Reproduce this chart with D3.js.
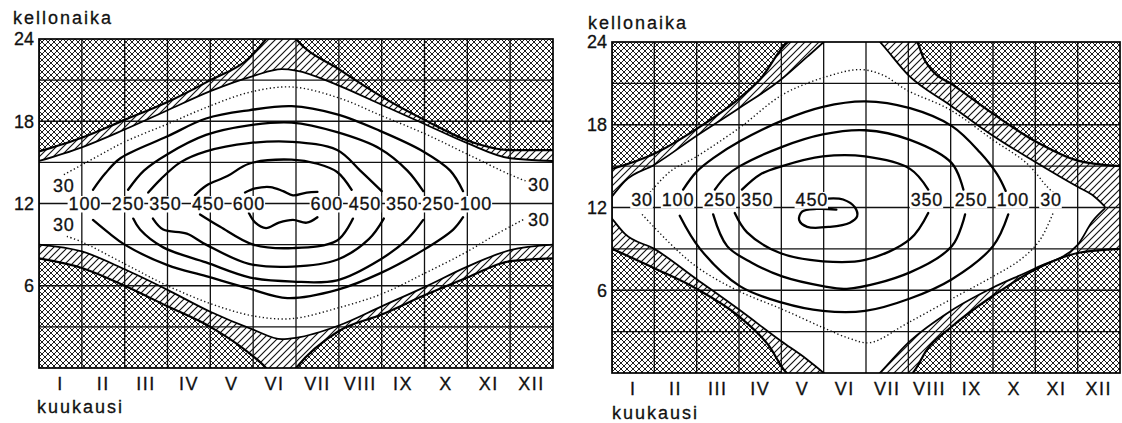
<!DOCTYPE html>
<html><head><meta charset="utf-8">
<script src="https://cdn.jsdelivr.net/npm/d3@7"></script>
<style>
body{margin:0;background:#fff;}
svg text{font-family:"Liberation Sans",Arial,Helvetica,sans-serif;fill:#111;stroke:#111;stroke-width:0.3px;}
</style></head><body>
<svg id="c" width="1122" height="423"></svg>
<script>
// ---------- shared ----------
const months = ["I","II","III","IV","V","VI","VII","VIII","IX","X","XI","XII"];
const hourTicks = [6, 12, 18, 24];
const gridHours = [3, 6, 9, 12, 15, 18, 21];
const yTitle = "kellonaika";
const xTitle = "kuukausi";

// ---------- left chart: day / twilight boundaries (month position, hour) ----------
const L_sunMonth = [0, 1, 2, 3, 4, 5, 5.67, 6, 7, 8, 9, 10, 11, 12];
const L_sunset  = [15.1, 16.1, 17.4, 18.8, 20.2, 21.3, 21.8, 21.7, 20.6, 19.2, 17.8, 16.4, 15.3, 15.1];
const L_sunrise = [9.0, 8.5, 7.2, 5.7, 4.1, 2.8, 2.1, 2.2, 3.1, 4.5, 5.9, 7.4, 8.6, 9.0];
const L_duskMonth = [0, 1, 2, 3, 4, 4.9, 5.3, 5.65, 6.0, 7, 8, 9, 10, 11, 12];
const L_dusk = [15.8, 16.8, 18.1, 19.4, 21.0, 22.6, 24, 25.5, 24, 21.8, 19.8, 18.1, 16.6, 15.9, 15.9];
const L_dawnMonth = [0, 1, 2, 3, 4, 4.9, 5.3, 5.65, 6.0, 7, 8, 9, 10, 11, 12];
const L_dawn = [8.0, 7.3, 6.0, 4.5, 3.0, 1.1, 0, -1.5, 0, 2.7, 3.9, 5.3, 6.6, 7.8, 8.0];

// left chart isopleths [month, hour]
const L_30top = [[0.58,14.1],[1.4,15.5],[2.0,16.5],[3.0,17.8],[3.9,19.0],[4.9,20.1],[5.9,20.5],[7.0,19.7],[8.0,18.4],[9.0,17.1],[10.0,15.6],[11.0,14.1],[11.4,13.6]];
const L_30bottom = [[0.65,9.6],[1.0,9.2],[2.0,7.6],[3.0,6.0],[4.0,4.7],[5.0,3.8],[5.9,3.6],[7.0,4.4],[8.0,5.4],[9.0,6.9],[10.0,8.5],[10.7,9.8],[11.35,10.9]];
const L_100top = [[1.26,13.0],[1.55,14.2],[1.9,15.3],[3.0,16.9],[3.9,18.2],[4.9,18.8],[5.9,19.1],[6.96,18.5],[7.96,17.3],[8.97,15.8],[9.6,14.4],[9.9,12.9]];
const L_100bottom = [[1.26,10.8],[1.65,9.8],[2.0,9.0],[3.0,7.5],[3.9,6.7],[4.9,5.8],[5.8,5.1],[6.96,5.7],[7.96,6.9],[8.97,8.6],[9.67,10.1],[9.9,11.0]];
const L_250top = [[2.08,13.0],[2.45,14.4],[3.0,15.6],[3.9,17.0],[4.9,17.7],[5.9,17.9],[6.96,17.2],[7.96,16.0],[8.6,14.4],[8.97,12.9]];
const L_250bottom = [[2.2,10.9],[2.36,10.1],[2.9,8.8],[3.9,7.7],[4.93,6.6],[5.93,6.3],[6.96,6.4],[7.96,7.9],[8.6,9.4],[8.97,10.8]];
const L_350top = [[2.55,12.8],[2.85,13.8],[3.3,15.0],[3.9,15.8],[4.9,16.4],[5.9,16.5],[6.96,15.9],[7.5,14.4],[8.0,12.9]];
const L_350bottom = [[2.66,10.9],[2.9,10.1],[3.45,9.8],[3.9,9.0],[4.9,7.6],[5.93,7.4],[6.96,7.9],[7.7,9.4],[8.05,10.9]];
const L_450top = [[3.64,12.6],[3.9,13.3],[4.4,14.0],[4.9,14.9],[5.9,15.2],[6.5,14.9],[6.96,14.3],[7.3,13.0]];
const L_450bottom = [[3.76,11.2],[4.23,10.3],[5.0,9.0],[5.93,8.75],[6.96,9.3],[7.33,10.9]];
const L_600top = [[4.81,12.8],[5.05,13.1],[5.4,13.2],[5.7,12.9],[5.93,12.6],[6.25,12.8],[6.5,12.85]];
const L_600bottom = [[4.9,11.3],[5.05,10.6],[5.3,10.2],[5.6,10.6],[5.93,10.8],[6.25,10.6],[6.5,11.0]];

const L_labelText  = ["30","30","100","250","350","450","600","600","450","350","250","100","30","30"];
const L_labelMonth = [0.58,0.58,1.07,2.08,2.95,3.95,4.9,6.72,7.61,8.48,9.32,10.2,11.67,11.67];
const L_labelHour  = [13.3,10.5,12,12,12,12,12,12,12,12,12,12,13.35,10.8];

// ---------- right chart ----------
const R_sunMonth = [-0.2, 0, 0.3, 1, 2, 3, 4, 4.6, 5.0, 5.67, 6.33, 7, 8, 9, 10, 11, 11.35, 11.65];
const R_sunset  = [12.0, 12.8, 13.9, 15.1, 17.2, 19.2, 21.3, 22.9, 24, 26, 24, 21.6, 19.4, 17.2, 15.3, 13.5, 12.9, 12.05];
const R_sunrise = [12.0, 11.2, 10.1, 9.0, 6.8, 4.6, 2.3, 1.0, 0, -2, 0, 2.2, 4.5, 6.2, 7.6, 9.3, 11.0, 11.95];
const R_duskMonth = [0, 1, 2, 3, 3.5, 4.16, 5.67, 7.2, 7.35, 7.6, 8, 9, 10, 11, 12];
const R_dusk = [14.8, 15.9, 17.7, 19.9, 21.3, 24, 25.5, 24, 22.9, 21.8, 21.0, 18.8, 16.8, 15.4, 15.0];
const R_dawnMonth = [0, 1, 2, 3, 3.7, 4.13, 5.67, 7.1, 7.44, 8, 9, 10, 11, 12];
const R_dawn = [9.0, 7.6, 6.1, 4.1, 2.0, 0, -2, 0, 1.7, 3.3, 5.6, 7.5, 8.7, 9.0];

const R_30top = [[0.9,13.1],[1.37,14.6],[2.0,15.7],[3.02,17.8],[4.04,20.2],[5.08,21.5],[5.86,22.0],[6.4,21.6],[6.97,20.5],[7.98,19.1],[9.0,16.9],[9.8,15.2],[10.28,13.5],[10.42,13.1]];
const R_30bottom = [[0.71,11.5],[1.37,9.4],[2.0,7.7],[2.95,6.0],[4.04,4.6],[4.98,3.3],[5.62,2.5],[6.1,2.2],[6.97,3.6],[7.98,5.3],[9.0,7.0],[9.64,8.2],[10.1,9.6],[10.42,11.6]];
const R_100top = [[1.68,13.3],[2.0,14.6],[2.4,15.6],[3.02,16.8],[4.02,18.3],[4.98,19.3],[5.98,19.7],[7.04,19.2],[8.03,17.9],[8.69,16.0],[9.1,14.4],[9.3,13.2]];
const R_100bottom = [[1.6,11.4],[2.08,9.0],[3.02,6.3],[4.02,5.1],[4.98,4.5],[5.98,4.5],[7.04,5.4],[8.03,6.8],[9.0,9.2],[9.36,11.5]];
const R_250top = [[2.43,13.3],[2.7,14.3],[3.02,15.0],[4.02,16.4],[4.98,17.3],[5.98,17.6],[7.04,16.9],[8.03,15.2],[8.3,13.3]];
const R_250bottom = [[2.39,11.5],[2.72,9.2],[3.3,8.0],[4.02,7.0],[4.98,6.3],[5.55,6.1],[7.04,7.3],[8.03,9.2],[8.34,11.5]];
const R_350top = [[3.07,13.3],[3.5,14.4],[4.02,15.0],[4.98,15.7],[5.98,15.7],[7.04,14.8],[7.47,13.3]];
const R_350bottom = [[2.9,11.6],[3.19,10.2],[3.97,8.7],[4.98,8.1],[5.98,8.2],[7.04,9.7],[7.47,11.6]];
const R_450 = [[5.10,12.65],[5.46,12.58],[5.74,12.0],[5.79,11.35],[5.62,10.9],[5.15,10.6],[4.61,10.6],[4.42,11.1],[4.49,11.7],[4.84,11.9],[5.3,11.85]];

const R_labelText  = ["30","100","250","350","450","350","250","100","30"];
const R_labelMonth = [0.71,1.56,2.55,3.43,4.72,7.44,8.48,9.47,10.37];

// ---------- drawing ----------
const svg = d3.select("#c");
const defs = svg.append("defs");
const cross = defs.append("pattern").attr("id","cross").attr("patternUnits","userSpaceOnUse").attr("width",6).attr("height",6);
cross.append("rect").attr("width",6).attr("height",6).attr("fill","#fff");
cross.append("path").attr("d","M-1,-1L7,7M7,-1L-1,7").attr("stroke","#111").attr("stroke-width",0.95);
const diag = defs.append("pattern").attr("id","diag").attr("patternUnits","userSpaceOnUse").attr("width",7).attr("height",7);
diag.append("rect").attr("width",7).attr("height",7).attr("fill","#fff");
diag.append("path").attr("d","M-1,8L8,-1M-1,1L1,-1M6,8L8,6").attr("stroke","#111").attr("stroke-width",1.15);

function drawChart(c) {
  const x = d3.scaleLinear().domain([0, 12]).range([c.x0, c.x1]);
  const y = d3.scaleLinear().domain([0, 24]).range([c.yb, c.yt]);
  const xb = d3.scaleBand().domain(months).range([c.x0, c.x1]);
  const g = svg.append("g");
  const id = "clip" + c.key;
  defs.append("clipPath").attr("id", id).append("rect")
    .attr("x", c.x0).attr("y", c.yt).attr("width", c.x1 - c.x0).attr("height", c.yb - c.yt);
  const p = g.append("g").attr("clip-path", `url(#${id})`);

  // twilight everywhere, then day, then night
  p.append("rect").attr("x", c.x0).attr("y", c.yt).attr("width", c.x1 - c.x0).attr("height", c.yb - c.yt).attr("fill", "url(#diag)");
  const sun = c.sunMonth.map((m, i) => ({m, rise: c.sunrise[i], set: c.sunset[i]}));
  p.append("path").datum(sun).attr("fill", "#fff")
    .attr("d", d3.area().x(d => x(d.m)).y0(d => y(d.rise)).y1(d => y(d.set)).curve(d3.curveMonotoneX));
  const dusk = c.duskMonth.map((m, i) => ({m, h: c.dusk[i]}));
  const dawn = c.dawnMonth.map((m, i) => ({m, h: c.dawn[i]}));
  p.append("path").datum(dusk).attr("fill", "url(#cross)")
    .attr("d", d3.area().x(d => x(d.m)).y0(d => y(d.h)).y1(y(24)).curve(d3.curveMonotoneX));
  p.append("path").datum(dawn).attr("fill", "url(#cross)")
    .attr("d", d3.area().x(d => x(d.m)).y0(d => y(d.h)).y1(y(0)).curve(d3.curveMonotoneX));

  // grid
  months.forEach(mo => {
    p.append("line").attr("x1", xb(mo)).attr("x2", xb(mo)).attr("y1", c.yt).attr("y2", c.yb)
      .attr("stroke", "#111").attr("stroke-width", 1.3);
  });
  gridHours.forEach(h => {
    p.append("line").attr("x1", c.x0).attr("x2", c.x1).attr("y1", y(h)).attr("y2", y(h))
      .attr("stroke", "#111").attr("stroke-width", 1.3);
  });

  // boundary lines
  const bl = d3.line().x(d => x(d.m)).y(d => y(d.h)).curve(d3.curveMonotoneX);
  p.append("path").datum(sun.map(d => ({m: d.m, h: d.set}))).attr("d", bl).attr("fill","none").attr("stroke","#000").attr("stroke-width",1.8);
  p.append("path").datum(sun.map(d => ({m: d.m, h: d.rise}))).attr("d", bl).attr("fill","none").attr("stroke","#000").attr("stroke-width",1.8);
  p.append("path").datum(dusk).attr("d", bl).attr("fill","none").attr("stroke","#000").attr("stroke-width",2.2);
  p.append("path").datum(dawn).attr("d", bl).attr("fill","none").attr("stroke","#000").attr("stroke-width",2.2);

  // isopleths
  const cl = d3.line().x(d => x(d[0])).y(d => y(d[1])).curve(d3.curveCatmullRom.alpha(0.5));
  c.dotted.forEach(arr => p.append("path").datum(arr).attr("d", cl).attr("fill","none")
    .attr("stroke","#111").attr("stroke-width",1.4).attr("stroke-dasharray","1.3,2.5"));
  c.solid.forEach(arr => p.append("path").datum(arr).attr("d", cl).attr("fill","none")
    .attr("stroke","#000").attr("stroke-width",2.3).attr("stroke-linecap","round"));

  // frame
  g.append("rect").attr("x", c.x0).attr("y", c.yt).attr("width", c.x1 - c.x0).attr("height", c.yb - c.yt)
    .attr("fill","none").attr("stroke","#000").attr("stroke-width",1.7);

  // isopleth labels
  c.labelText.forEach((t, i) => {
    const lg = g.append("g");
    const r = lg.append("rect").attr("fill", "#fff");
    const tx = lg.append("text").attr("x", x(c.labelMonth[i])).attr("text-anchor", "middle")
      .attr("font-size", 18).attr("letter-spacing", "0.8px").text(t);
    if (c.labelAbove) tx.attr("y", y(12) - 1.5);
    else tx.attr("y", y(c.labelHour[i])).attr("dy", "0.36em");
    const b = tx.node().getBBox();
    r.attr("x", b.x - 1).attr("y", b.y + 2).attr("width", b.width + 1).attr("height", b.height - 3.5);
  });

  // axes
  const ay = g.append("g").attr("transform", `translate(${c.x0},0)`)
    .call(d3.axisLeft(y).tickValues(hourTicks).tickSize(0).tickPadding(5));
  ay.select(".domain").remove();
  ay.selectAll("text").attr("font-size", 18);
  const ax = g.append("g").attr("transform", `translate(0,${c.yb})`)
    .call(d3.axisBottom(xb).tickSize(0).tickPadding(c.monthPad));
  ax.select(".domain").remove();
  ax.selectAll("text").attr("font-size", 18).attr("letter-spacing", "1.5px");

  g.append("text").attr("x", c.yTitleX).attr("y", c.yTitleY).attr("font-size", 18).attr("letter-spacing", "2px").text(yTitle);
  g.append("text").attr("x", c.xTitleX).attr("y", c.xTitleY).attr("font-size", 18).attr("letter-spacing", "2px").text(xTitle);
}

drawChart({
  key: "L", x0: 39, x1: 553, yt: 39, yb: 368, monthPad: 9,
  sunMonth: L_sunMonth, sunset: L_sunset, sunrise: L_sunrise,
  duskMonth: L_duskMonth, dusk: L_dusk, dawnMonth: L_dawnMonth, dawn: L_dawn,
  dotted: [L_30top, L_30bottom],
  solid: [L_100top, L_100bottom, L_250top, L_250bottom, L_350top, L_350bottom, L_450top, L_450bottom, L_600top, L_600bottom],
  labelText: L_labelText, labelMonth: L_labelMonth, labelHour: L_labelHour, labelAbove: false,
  yTitleX: 13, yTitleY: 24, xTitleX: 37, xTitleY: 413
});
drawChart({
  key: "R", x0: 612, x1: 1120, yt: 42, yb: 373, monthPad: 9,
  sunMonth: R_sunMonth, sunset: R_sunset, sunrise: R_sunrise,
  duskMonth: R_duskMonth, dusk: R_dusk, dawnMonth: R_dawnMonth, dawn: R_dawn,
  dotted: [R_30top, R_30bottom],
  solid: [R_100top, R_100bottom, R_250top, R_250bottom, R_350top, R_350bottom, R_450],
  labelText: R_labelText, labelMonth: R_labelMonth, labelAbove: true,
  yTitleX: 588, yTitleY: 29, xTitleX: 612, xTitleY: 419
});
</script>
</body></html>
